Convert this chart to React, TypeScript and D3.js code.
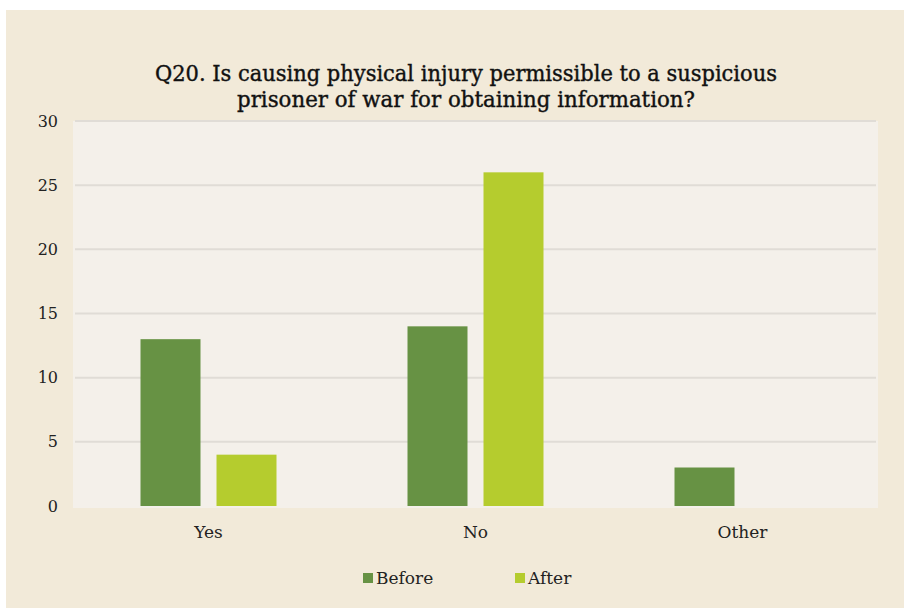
import React from "react";
import * as d3 from "d3";

const categories = ["Yes", "No", "Other"];
const seriesNames = ["Before", "After"];
const beforeValues = [13, 14, 3];
const afterValues = [4, 26, 0];
const yTicks = [0, 5, 10, 15, 20, 25, 30];
const titleLines = [
  "Q20. Is causing physical injury permissible to a suspicious",
  "prisoner of war for obtaining information?",
];
const titleWidths = [622, 458];
const colors = ["#679244", "#B5CC2E"];

export default function App() {
  const W = 904, H = 608;
  const left = 75, right = 876, top = 121, bottom = 506;
  const x = d3.scaleBand<string>().domain(categories).range([left, right]);
  const y = d3.scaleLinear().domain([0, 30]).range([bottom, top]);
  const barW = 60, gap = 16;
  const series = [beforeValues, afterValues];
  const font = "'DejaVu Serif', serif";
  return (
    <svg width={W} height={H} style={{ position: "absolute", left: 0, top: 0 }}>
      <rect x={0} y={0} width={W} height={H} fill="#ffffff" />
      <rect x={6} y={10} width={W - 6} height={H - 10} fill="#F2EAD9" />
      <rect x={left - 2} y={top} width={right - left + 4} height={bottom - top + 2} fill="#F4F0EA" />
      {yTicks.map((t) => (
        <g key={t}>
          {t > 0 && (
            <line x1={left} x2={right} y1={y(t)} y2={y(t)} stroke="#E0DCD6" strokeWidth={2} />
          )}
          <text
            x={58}
            y={y(t)}
            dy="0.35em"
            textAnchor="end"
            fontFamily={font}
            fontSize={16}
            fill="#222"
          >
            {t}
          </text>
        </g>
      ))}
      {categories.map((c, i) => {
        const cx = x(c)! + x.bandwidth() / 2;
        return (
          <g key={c}>
            {series.map((vals, s) => {
              const bx = cx - gap / 2 - barW + s * (barW + gap);
              const v = vals[i];
              if (v <= 0) return null;
              return (
                <rect
                  key={s}
                  x={bx}
                  y={y(v)}
                  width={barW}
                  height={y(0) - y(v)}
                  fill={colors[s]}
                />
              );
            })}
            <text
              x={cx}
              y={538}
              textAnchor="middle"
              fontFamily={font}
              fontSize={17}
              fill="#222"
            >
              {c}
            </text>
          </g>
        );
      })}
      {titleLines.map((l, i) => (
        <text
          key={i}
          x={466}
          y={81 + i * 26}
          textAnchor="middle"
          fontFamily={font}
          fontSize={22}
          fill="#111"
          stroke="#111"
          strokeWidth={0.4}
          textLength={titleWidths[i]}
          lengthAdjust="spacingAndGlyphs"
        >
          {l}
        </text>
      ))}
      {seriesNames.map((n, i) => {
        const lx = [363, 515][i];
        return (
          <g key={n}>
            <rect x={lx} y={573} width={10} height={10} fill={colors[i]} />
            <text x={lx + 13} y={584} fontFamily={font} fontSize={17} fill="#222">
              {n}
            </text>
          </g>
        );
      })}
    </svg>
  );
}
